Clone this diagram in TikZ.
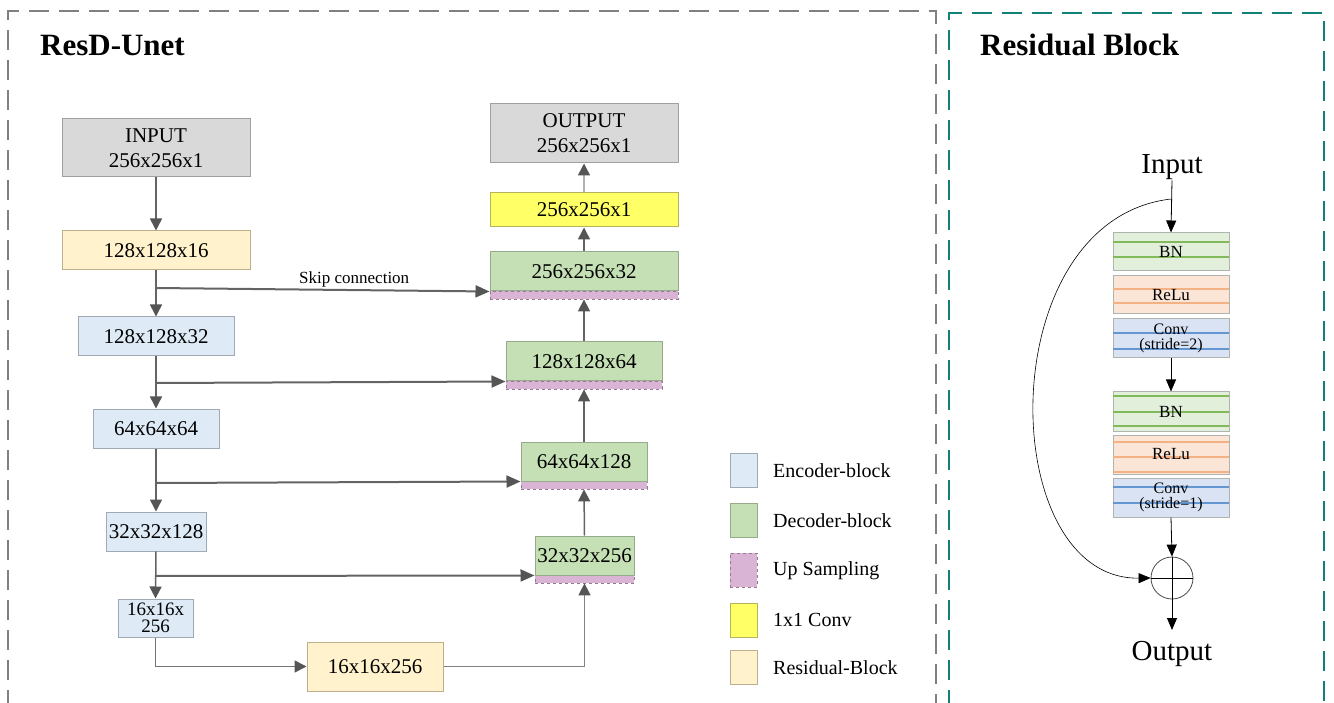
\documentclass[tikz,border=0pt]{standalone}
\usepackage{fontspec}
\setmainfont{Liberation Serif}
\usetikzlibrary{arrows.meta}
\definecolor{framegray}{RGB}{128,128,128}
\definecolor{frameteal}{RGB}{16,128,120}
\definecolor{iofill}{RGB}{217,217,217}
\definecolor{iodraw}{RGB}{160,160,160}
\definecolor{resfill}{RGB}{255,242,204}
\definecolor{resdraw}{RGB}{190,175,140}
\definecolor{encfill}{RGB}{222,235,247}
\definecolor{encdraw}{RGB}{160,170,180}
\definecolor{decfill}{RGB}{197,224,180}
\definecolor{decdraw}{RGB}{150,170,140}
\definecolor{upfill}{RGB}{217,180,213}
\definecolor{updraw}{RGB}{150,120,150}
\definecolor{convfill}{RGB}{255,255,102}
\definecolor{convdraw}{RGB}{180,180,90}
\definecolor{linegray}{RGB}{100,100,100}
\definecolor{tipgray}{RGB}{85,85,85}
\definecolor{bnfill}{RGB}{226,239,218}
\definecolor{bnline}{RGB}{130,185,90}
\definecolor{relufill}{RGB}{251,229,214}
\definecolor{reluline}{RGB}{244,177,131}
\definecolor{cvfill}{RGB}{218,227,243}
\definecolor{cvline}{RGB}{100,150,210}
\definecolor{rbdraw}{RGB}{175,180,175}
\begin{document}
\begin{tikzpicture}[x=1pt,y=-1pt,
  box/.style={draw, line width=1pt, inner sep=0pt, align=center,
    font=\fontsize{21}{25}\selectfont},
  iobox/.style={box, fill=iofill, draw=iodraw},
  resbox/.style={box, fill=resfill, draw=resdraw},
  encbox/.style={box, fill=encfill, draw=encdraw},
  decbox/.style={box, fill=decfill, draw=decdraw},
  upbox/.style={draw=updraw, fill=upfill, dashed, line width=0.8pt, inner sep=0pt},
  cvbox/.style={box, fill=convfill, draw=convdraw},
  flow/.style={draw=linegray, line width=1.5pt, -{Triangle[width=12pt,length=12pt,color=tipgray]}},
  skipline/.style={draw=linegray, line width=2pt, -{Triangle[width=12pt,length=14pt,color=tipgray]}},
  rbbox/.style={draw=rbdraw, line width=1pt, minimum width=116pt, inner sep=0pt, align=center},
  rbtxt/.style={inner sep=0pt, align=center, font=\fontsize{17}{15}\selectfont},
  blk/.style={draw=black, line width=0.8pt, -{Triangle[width=10pt,length=12pt]}},
  legbox/.style={draw, line width=1pt, minimum width=27pt, minimum height=34pt, inner sep=0pt},
  legtxt/.style={anchor=west, inner sep=0pt, font=\fontsize{20}{24}\selectfont}
]
\useasboundingbox (0,0) rectangle (1334,703);
% frames
\draw[framegray, line width=2pt, dash pattern=on 20pt off 10pt] (8,710) -- (8,11) -- (936,11) -- (936,710);
\draw[frameteal, line width=2pt, dash pattern=on 20pt off 10pt] (949,710) -- (949,13) -- (1324,13) -- (1324,710);
% titles
\node[anchor=base west, inner sep=0pt, font=\fontsize{31}{36}\selectfont\bfseries] (t1) at (40,56) {ResD-Unet};
\node[anchor=base west, inner sep=0pt, font=\fontsize{31}{36}\selectfont\bfseries] (t2) at (980,56) {Residual Block};
% encoder side
\node[iobox, minimum width=188pt, minimum height=58pt] (in) at (156,148) {INPUT\\256x256x1};
\node[resbox, minimum width=188pt, minimum height=39pt] (r1) at (156,250.5) {128x128x16};
\node[encbox, minimum width=156pt, minimum height=39pt] (e1) at (156,336.5) {128x128x32};
\node[encbox, minimum width=126pt, minimum height=39pt] (e2) at (156,428.5) {64x64x64};
\node[encbox, minimum width=100pt, minimum height=39pt] (e3) at (156,531.5) {32x32x128};
\node[encbox, minimum width=75pt, minimum height=38pt, font=\fontsize{19}{17}\selectfont] (e4) at (155.5,618) {16x16x\\256};
\node[resbox, minimum width=136pt, minimum height=49pt] (r2) at (375,666.5) {16x16x256};
% decoder side
\node[iobox, minimum width=188pt, minimum height=59pt] (out) at (584,133.5) {OUTPUT\\256x256x1};
\node[cvbox, minimum width=188pt, minimum height=34pt] (cv) at (584,210) {256x256x1};
\node[upbox, minimum width=188pt, minimum height=8pt] (d1s) at (584,295) {};
\node[decbox, minimum width=188pt, minimum height=39pt] (d1) at (584,271.5) {256x256x32};
\node[upbox, minimum width=156pt, minimum height=8pt] (d2s) at (584,385) {};
\node[decbox, minimum width=156pt, minimum height=39pt] (d2) at (584,361.5) {128x128x64};
\node[upbox, minimum width=126pt, minimum height=8pt] (d3s) at (584,485) {};
\node[decbox, minimum width=126pt, minimum height=39pt] (d3) at (584,461.5) {64x64x128};
\node[upbox, minimum width=99pt, minimum height=8pt] (d4s) at (584.5,579) {};
\node[decbox, minimum width=99pt, minimum height=39pt] (d4) at (584.5,555.5) {32x32x256};
% skip start points
\coordinate (s1) at (156,288);
\coordinate (s2) at (156,383);
\coordinate (s3) at (156,483);
\coordinate (s4) at (156,576);
% encoder flow
\draw[flow] (in.south) -- (r1.north);
\draw[flow] (r1.south) -- (e1.north);
\draw[flow] (e1.south) -- (e2.north);
\draw[flow] (e2.south) -- (e3.north);
\draw[flow] (e3.south) -- (e4.north);
\draw[flow, draw=linegray!90] (e4.south) |- (r2.west);
\draw[flow, draw=linegray!80] (r2.east) -| (d4s.south);
% decoder flow
\draw[flow] (d4.north) -- (d3s.south);
\draw[flow] (d3.north) -- (d2s.south);
\draw[flow] (d2.north) -- (d1s.south);
\draw[flow] (d1.north) -- (cv.south);
\draw[flow, draw=linegray!50] (cv.north) -- (out.south);
% skips
\draw[skipline] (s1) -- (d1.south west);
\draw[skipline] (s2) -- (d2.south west);
\draw[skipline] (s3) -- (d3.south west);
\draw[skipline] (s4) -- (d4.south west);
\node[anchor=base west, inner sep=0pt, font=\fontsize{17}{20}\selectfont] (skl) at (299,284) {Skip connection};
% legend
\node[legbox, fill=encfill, draw=encdraw] (l1) at (743.5,470) {};
\node[legbox, fill=decfill, draw=decdraw] (l2) at (743.5,520) {};
\node[legbox, fill=upfill, draw=updraw, dashed] (l3) at (743.5,570) {};
\node[legbox, fill=convfill, draw=convdraw] (l4) at (743.5,620) {};
\node[legbox, fill=resfill, draw=resdraw] (l5) at (743.5,667) {};
\node[legtxt] (lt1) at (773,471) {Encoder-block};
\node[legtxt] (lt2) at (773,521) {Decoder-block};
\node[legtxt] (lt3) at (773,571) {Up Sampling};
\node[legtxt] (lt4) at (773,620) {1x1 Conv};
\node[legtxt] (lt5) at (773,668) {Residual-Block};
% residual block
\node[anchor=base, inner sep=0pt, font=\fontsize{29}{32}\selectfont] (rin) at (1172,174) {Input};
\node[rbbox, fill=bnfill, minimum height=38pt] (bn1) at (1171,252) {};
\node[rbbox, fill=relufill, minimum height=38pt] (rl1) at (1171,295) {};
\node[rbbox, fill=cvfill, minimum height=39pt] (cv1) at (1171,338.5) {};
\node[rbbox, fill=bnfill, minimum height=39pt] (bn2) at (1171,411.5) {};
\node[rbbox, fill=relufill, minimum height=39pt] (rl2) at (1171,454.5) {};
\node[rbbox, fill=cvfill, minimum height=39pt] (cv2) at (1171,497.5) {};
% stripes
\draw[bnline, line width=1.5pt] (1113,242) -- (1229,242) (1113,257) -- (1229,257);
\draw[reluline, line width=1.5pt] (1113,289) -- (1229,289) (1113,303) -- (1229,303);
\draw[cvline, line width=1.5pt] (1113,333) -- (1229,333) (1113,349) -- (1229,349);
\draw[bnline, line width=1.5pt] (1113,396) -- (1229,396) (1113,412) -- (1229,412) (1113,426) -- (1229,426);
\draw[reluline, line width=1.5pt] (1113,442) -- (1229,442) (1113,457) -- (1229,457) (1113,472) -- (1229,472);
\draw[cvline, line width=1.5pt] (1113,487) -- (1229,487) (1113,503) -- (1229,503);
% texts on boxes
\node[rbtxt] (bn1t) at (bn1) {BN};
\node[rbtxt] (rl1t) at (rl1) {ReLu};
\node[rbtxt, font=\fontsize{16}{15}\selectfont] (cv1t) at (cv1) {Conv\\(stride=2)};
\node[rbtxt] (bn2t) at (bn2) {BN};
\node[rbtxt] (rl2t) at (rl2) {ReLu};
\node[rbtxt, font=\fontsize{16}{15}\selectfont] (cv2t) at (cv2) {Conv\\(stride=1)};
% sum
\node[circle, draw=black!70, line width=0.8pt, minimum size=42pt, inner sep=0pt] (sum) at (1172,578) {};
\draw[black, line width=1pt] (sum.west) -- (sum.east) (sum.north) -- (sum.south);
\node[anchor=base, inner sep=0pt, font=\fontsize{29}{32}\selectfont] (rout) at (1172,660) {Output};
\coordinate (cs) at (1171,199);
\coordinate (oend) at (1172,630);
\draw[blk] (rin.south) -- (bn1.north);
\draw[blk] (cv1.south) -- (bn2.north);
\draw[blk] (cv2.south) -- (sum.north);
\draw[blk] (sum.south) -- (oend);
\draw[blk, line width=0.6pt] (cs) .. controls (990,220) and (995,580) .. (sum.west);
\end{tikzpicture}
\end{document}
